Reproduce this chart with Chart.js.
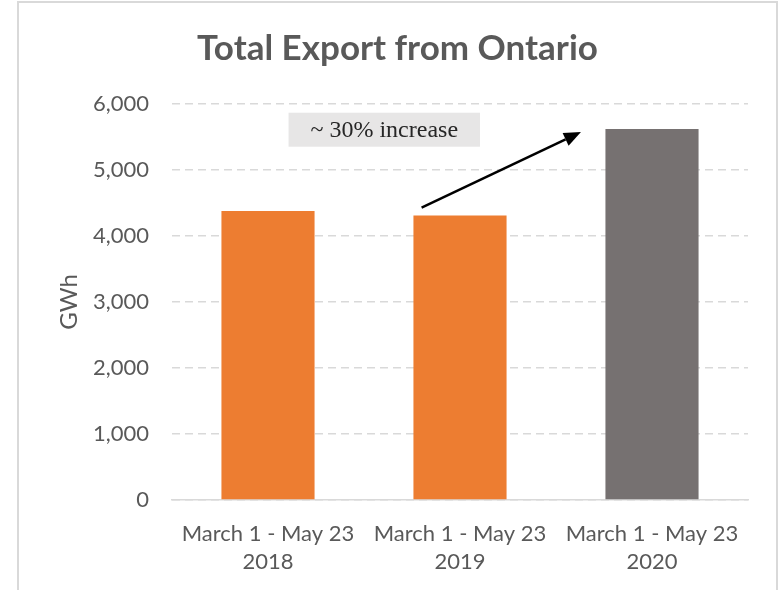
<!DOCTYPE html>
<html>
<head>
<meta charset="utf-8">
<script src="https://cdn.jsdelivr.net/npm/chart.js@4"></script>
<style>
  body { margin: 0; background: #fff; overflow: hidden; }
  #frame { position: absolute; left: 17px; top: 1px; width: 761px; height: 700px;
           box-sizing: border-box; border: 2px solid #d9d9d9; }
  #wrap { position: absolute; left: 0; top: 0; width: 779px; height: 590px; }
</style>
</head>
<body>
<div id="frame"></div>
<div id="wrap"><canvas id="myChart"></canvas></div>
<script>
// data
const periods = [['March 1 - May 23', '2018'], ['March 1 - May 23', '2019'], ['March 1 - May 23', '2020']];
const exportGWh = [4380, 4310, 5620];
const barColors = ['#ED7D31', '#ED7D31', '#767171'];
const yMax = 6000;
const yStep = 1000;

// annotation, in data units (category index, GWh)
const noteText = '~ 30% increase';
const noteBox = [0.107, 5868, 1.104, 5353];
const arrowFrom = [0.80, 4430];
const arrowTo = [1.63, 5575];

const textGray = '#595959';

const noteArrow = {
  id: 'noteArrow',
  afterDatasetsDraw(chart) {
    const c = chart.ctx;
    const x = chart.scales.x;
    const y = chart.scales.y;
    const bx1 = x.getPixelForValue(noteBox[0]), by1 = y.getPixelForValue(noteBox[1]);
    const bx2 = x.getPixelForValue(noteBox[2]), by2 = y.getPixelForValue(noteBox[3]);
    c.save();
    c.fillStyle = '#e7e6e6';
    c.fillRect(bx1, by1, bx2 - bx1, by2 - by1);
    c.fillStyle = '#262626';
    c.font = '24px "Liberation Serif"';
    c.textAlign = 'center';
    c.textBaseline = 'middle';
    c.fillText(noteText, (bx1 + bx2) / 2, (by1 + by2) / 2 + 1);

    // arrow
    const x1 = x.getPixelForValue(arrowFrom[0]), y1 = y.getPixelForValue(arrowFrom[1]);
    const x2 = x.getPixelForValue(arrowTo[0]), y2 = y.getPixelForValue(arrowTo[1]);
    const ang = Math.atan2(y2 - y1, x2 - x1);
    const head = 17, half = 7;
    const hx = x2 - head * Math.cos(ang), hy = y2 - head * Math.sin(ang);
    c.strokeStyle = '#000';
    c.lineWidth = 2.5;
    c.beginPath();
    c.moveTo(x1, y1);
    c.lineTo(hx, hy);
    c.stroke();
    c.fillStyle = '#000';
    c.beginPath();
    c.moveTo(x2, y2);
    c.lineTo(hx + half * Math.sin(ang), hy - half * Math.cos(ang));
    c.lineTo(hx - half * Math.sin(ang), hy + half * Math.cos(ang));
    c.closePath();
    c.fill();
    c.restore();
  }
};

const ctx = document.getElementById('myChart');
new Chart(ctx, {
  type: 'bar',
  data: {
    labels: periods,
    datasets: [{
      label: 'Total Export',
      data: exportGWh,
      backgroundColor: barColors,
      borderWidth: 0,
      categoryPercentage: 1,
      barPercentage: 0.485
    }]
  },
  options: {
    responsive: true,
    maintainAspectRatio: false,
    animation: false,
    layout: { padding: { top: 0, right: 31, bottom: 0, left: 47 } },
    plugins: {
      legend: { display: false },
      tooltip: { enabled: false },
      title: {
        display: true,
        text: 'Total Export from Ontario',
        color: textGray,
        font: { family: 'Lato', size: 35, weight: 'bold', lineHeight: 1.2 },
        padding: { top: 27.5, bottom: 34.5 }
      }
    },
    scales: {
      x: {
        grid: { display: false },
        border: { display: true, color: '#d9d9d9', width: 1.5 },
        ticks: {
          color: textGray,
          font: { family: 'Lato', size: 22, lineHeight: 1.273 },
          padding: 12,
          maxRotation: 0
        },
        afterFit(scale) { scale.height = 90; }
      },
      y: {
        min: 0,
        max: yMax,
        grid: { color: '#d9d9d9', lineWidth: 1.5, drawTicks: false },
        border: { display: false, dash: [8, 5] },
        ticks: {
          stepSize: yStep,
          color: textGray,
          padding: 23,
          font: { family: 'Lato', size: 22 },
          callback: v => v.toLocaleString('en-US')
        },
        title: {
          display: true,
          text: 'GWh',
          color: textGray,
          font: { family: 'Lato', size: 24, lineHeight: 1.2 },
          padding: { top: 7.6, bottom: 0 }
        },
        afterFit(scale) { scale.width = 125; }
      }
    }
  },
  plugins: [noteArrow]
});
</script>
</body>
</html>
